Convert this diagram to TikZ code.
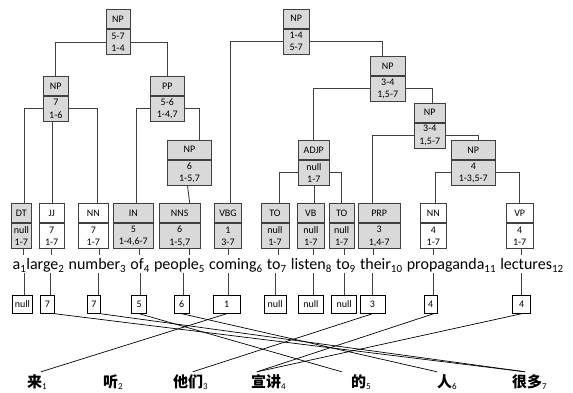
\documentclass[tikz,border=0pt]{standalone}
\usepackage{fontspec}
\setmainfont{Carlito}
\newfontfamily\cjk{Noto Sans CJK SC}
\definecolor{gfill}{HTML}{D9D9D9}
\definecolor{lc}{HTML}{404040}
\tikzset{
 hd/.style={draw=lc, line width=0.9pt, minimum height=19pt, inner sep=0pt, font=\fontsize{10}{11}\selectfont},
 bd/.style={draw=lc, line width=0.9pt, minimum height=25pt, inner sep=0pt, align=center, font=\fontsize{10}{12.5}\selectfont},
 edge/.style={draw=lc, line width=0.9pt},
 word/.style={inner sep=0pt, text height=14pt, text depth=4pt, anchor=base west, font=\fontsize{16}{20}\selectfont},
 nxt/.style={xshift=4.3pt},
 abox/.style={draw=black, line width=0.7pt, minimum height=18pt, inner sep=0pt, anchor=north, font=\fontsize{10}{11}\selectfont},
 zh/.style={inner sep=0pt, text height=15pt, anchor=base west, font=\fontsize{15}{18}\selectfont},
 aln/.style={draw=black, line width=0.7pt}
}
\newcommand\tbox[8]{%
 \node[hd, minimum width=#4pt, fill=#8, anchor=north] (#1h) at (#2,#3) {#5};
 \node[bd, minimum width=#4pt, fill=#8, anchor=north] (#1) at (#1h.south) {#6\\#7};}
\newcommand\zw[2]{{\cjk\bfseries #1}{\fontsize{9}{10}\selectfont\raisebox{-2pt}{#2}}}
\newcommand\es[1]{{\fontsize{11}{12}\selectfont\raisebox{-3pt}{#1}}}
\begin{document}
\begin{tikzpicture}[x=1pt,y=-1pt]
\useasboundingbox (0,0) rectangle (573,393);
% upper tree
\tbox{n1}{118}{9.3}{24}{NP}{5-7}{1-4}{gfill}
\tbox{n2}{296.2}{8.7}{25.7}{NP}{1-4}{5-7}{gfill}
\tbox{n3}{55.8}{76}{25}{NP}{7}{1-6}{gfill}
\tbox{n4}{167.3}{76}{34}{PP}{5-6}{1-4,7}{gfill}
\tbox{n5}{189.5}{139.7}{43.6}{NP}{6}{1-5,7}{gfill}
\tbox{n6}{387.8}{56}{34.3}{NP}{3-4}{1,5-7}{gfill}
\tbox{n7}{429.8}{102.7}{31}{NP}{3-4}{1,5-7}{gfill}
\tbox{n8}{473.3}{140}{43.3}{NP}{4}{1-3,5-7}{gfill}
\tbox{n9}{313.8}{140}{31}{ADJP}{null}{1-7}{gfill}
% preterminals
\tbox{p1}{21.3}{203.3}{20.7}{DT}{null}{1-7}{gfill}
\tbox{p2}{51.7}{203.3}{24.7}{JJ}{7}{1-7}{white}
\tbox{p3}{93.3}{203.3}{30}{NN}{7}{1-7}{white}
\tbox{p4}{133.3}{203.3}{40}{IN}{5}{1-4,6-7}{gfill}
\tbox{p5}{179.7}{203.3}{40.7}{NNS}{6}{1-5,7}{gfill}
\tbox{p6}{228}{203.3}{27.4}{VBG}{1}{3-7}{gfill}
\tbox{p7}{275}{203.3}{28}{TO}{null}{1-7}{gfill}
\tbox{p8}{310.8}{203.3}{26.3}{VB}{null}{1-7}{gfill}
\tbox{p9}{341.7}{203.3}{24.7}{TO}{null}{1-7}{gfill}
\tbox{p10}{379.2}{203.3}{41.7}{PRP}{3}{1,4-7}{gfill}
\tbox{p11}{433.3}{203.3}{26.7}{NN}{4}{1-7}{white}
\tbox{p12}{519.7}{203.3}{27.3}{VP}{4}{1-7}{white}
% tree edges
\draw[edge] (n1.west) -| (n3h.north);
\draw[edge] (n1.east) -| (n4h.north);
\draw[edge] (n3.west) -| ([xshift=3pt]p1h.north);
\draw[edge] ([xshift=1pt]p2h.north) -- ([xshift=1pt]p2h.north |- n3.south);
\draw[edge] (n3.east) -| ([xshift=4pt]p3h.north);
\draw[edge] (n4.west) -| ([xshift=3.4pt]p4h.north);
\draw[edge] (n4.east) -| ([xshift=9.5pt]n5h.north);
\draw[edge] ([xshift=-2pt]n5.south) -- ([xshift=10pt]p5h.north);
\draw[edge] (n2.west) -| ([xshift=2pt]p6h.north);
\draw[edge] (n2.east) -| ([xshift=-5.5pt]n6h.north);
\draw[edge] (n6.west) -| (n9h.north);
\draw[edge] (n6.east) -| ([xshift=3pt]n7h.north);
\draw[edge] (n7.west) -| ([xshift=-6.5pt]p10h.north);
\draw[edge] (n7.east) -| ([xshift=5.4pt]n8h.north);
\draw[edge] (n8.west) -| ([xshift=1.7pt]p11h.north);
\draw[edge] (n8.east) -| (p12h.north);
\draw[edge] (n9.west) -| ([xshift=4.3pt]p7h.north);
\draw[edge] ([xshift=3.2pt]p8h.north) -- ([xshift=3.2pt]p8h.north |- n9.south);
\draw[edge] (n9.east) -| (p9h.north);
% English words
\node[word] (w1) at (12.5,269) {a\es{1}};
\node[word] (w2) at (w1.base east) {large\es{2}};
\node[word,nxt] (w3) at (w2.base east) {number\es{3}};
\node[word,nxt] (w4) at (w3.base east) {of\es{4}};
\node[word,nxt] (w5) at (w4.base east) {people\es{5}};
\node[word,nxt] (w6) at (w5.base east) {coming\es{6}};
\node[word,nxt] (w7) at (w6.base east) {to\es{7}};
\node[word,nxt] (w8) at (w7.base east) {listen\es{8}};
\node[word,nxt] (w9) at (w8.base east) {to\es{9}};
\node[word,nxt] (w10) at (w9.base east) {their\es{10}};
\node[word,nxt] (w11) at (w10.base east) {propaganda\es{11}};
\node[word,nxt] (w12) at (w11.base east) {lectures\es{12}};
% alignment boxes
\node[abox, minimum width=20pt] (a1) at (22.3,295) {null};
\node[abox, minimum width=13.3pt] (a2) at (47.3,295) {7};
\node[abox, minimum width=12.3pt] (a3) at (93.8,295) {7};
\node[abox, minimum width=15pt] (a4) at (139.2,295) {5};
\node[abox, minimum width=15.3pt] (a5) at (181.7,295) {6};
\node[abox, minimum width=26.7pt] (a6) at (226.7,295) {1};
\node[abox, minimum width=21.7pt] (a7) at (275.2,295) {null};
\node[abox, minimum width=25pt] (a8) at (310.8,295) {null};
\node[abox, minimum width=25pt] (a9) at (344.2,295) {null};
\node[abox, minimum width=25pt] (a10) at (372.5,295) {3};
\node[abox, minimum width=13.3pt] (a11) at (430.7,295) {4};
\node[abox, minimum width=18pt] (a12) at (521.7,295) {4};
% tree to word lines
\foreach \p/\w/\s in {p1/w1/2,p2/w2/0,p3/w3/5.7,p4/w4/5.7,p5/w5/9.6,p6/w6/0.5,p7/w7/3,p8/w8/2.5,p9/w9/2.3,p10/w10/-6,p11/w11/0,p12/w12/1.3}
  \draw[edge] ([xshift=\s pt]\p.south) -- ([xshift=\s pt]\p.south |- \w.north);
\foreach \a/\w/\t in {a1/w1/1.7,a2/w2/3.3,a3/w3/4.7,a4/w4/1.5,a5/w5/1.6,a6/w6/1.3,a7/w7/0.5,a8/w8/2.5,a9/w9/0,a10/w10/0,a11/w11/2.6,a12/w12/0}
  \draw[edge] ([xshift=\t pt]\a.north) -- ([xshift=\t pt]\a.north |- \w.south);
% Chinese words
\node[zh] (z1) at (27,387) {\zw{来}{1}};
\node[zh] (z2) at (103,387) {\zw{听}{2}};
\node[zh] (z3) at (173,387) {\zw{他们}{3}};
\node[zh] (z4) at (251,387) {\zw{宣讲}{4}};
\node[zh] (z5) at (351,387) {\zw{的}{5}};
\node[zh] (z6) at (437,387) {\zw{人}{6}};
\node[zh] (z7) at (512,387) {\zw{很多}{7}};
% alignment lines
\draw[aln] (a2.south east) -- ([xshift=13pt]z7.north west);
\draw[aln] (a3.south east) -- ([xshift=13pt]z7.north west);
\draw[aln] (a4.south) -- ([xshift=-9.3pt]z5.north west);
\draw[aln] (a5.south) -- ([xshift=0pt]z6.north west);
\draw[aln] (a6.south) -- ([xshift=14pt]z1.north west);
\draw[aln] (a10.south) -- ([xshift=19.7pt]z3.north west);
\draw[aln] ([xshift=3pt]a11.south) -- ([xshift=6pt]z4.north west);
\draw[aln] (a12.south) -- ([xshift=6pt]z4.north west);
\end{tikzpicture}
\end{document}
